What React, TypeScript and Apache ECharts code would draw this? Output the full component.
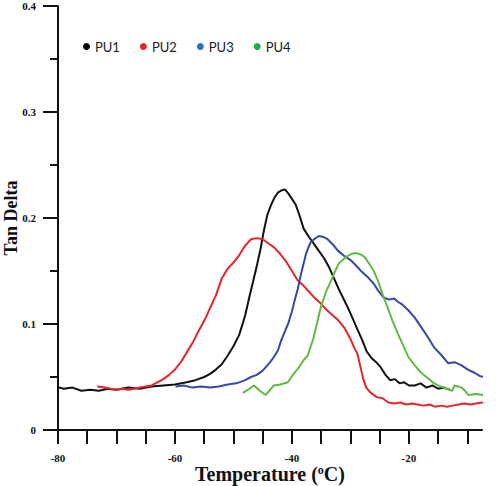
import React, { useEffect, useRef } from "react";
import * as echarts from "echarts";

const seriesNames = ["PU1", "PU2", "PU3", "PU4"];
const lineColors = ["#111111", "#e8242b", "#3448a5", "#62b945"];
const legendColors = ["#000000", "#e3262d", "#2c73bf", "#1bae4b"];

const xTicks = [-80, -75, -70, -65, -60, -55, -50, -45, -40, -35, -30, -25, -20, -15, -10];
const xLabels = [-80, -60, -40, -20];

const pu1T = [-81.7, -80.5, -79, -77.5, -76, -74.5, -73, -71.5, -70, -68, -66, -64, -62, -60, -58, -56.5, -55, -54, -53, -52, -51, -50, -49, -48, -47.3, -46.6, -46, -45.4, -44.8, -44.2, -43.6, -43, -42.4, -41.8, -41.2, -40.6, -40, -39.4, -38.8, -38, -37.2, -36.3, -35.4, -34.5, -33.6, -32.8, -32, -31.2, -30.4, -29.6, -28.8, -28, -27.2, -26.4, -25.6, -24.8, -24, -23.2, -22.4, -21.6, -20.8, -20, -19, -18, -17, -16, -15, -14, -13];
const pu1D = [0.040, 0.041, 0.039, 0.040, 0.037, 0.038, 0.037, 0.039, 0.038, 0.040, 0.039, 0.041, 0.042, 0.043, 0.045, 0.047, 0.050, 0.053, 0.057, 0.062, 0.070, 0.079, 0.090, 0.108, 0.125, 0.141, 0.155, 0.170, 0.188, 0.203, 0.212, 0.219, 0.224, 0.226, 0.227, 0.223, 0.218, 0.213, 0.204, 0.190, 0.183, 0.176, 0.169, 0.162, 0.153, 0.143, 0.133, 0.124, 0.115, 0.105, 0.095, 0.085, 0.074, 0.068, 0.064, 0.059, 0.052, 0.047, 0.048, 0.044, 0.045, 0.042, 0.042, 0.044, 0.040, 0.042, 0.039, 0.040, 0.038];

const pu2T = [-73.3, -72, -71, -70, -69, -68, -67, -66, -65, -64, -63, -62, -61, -60, -59, -58, -57, -56, -55, -54, -53, -52, -51, -50, -49, -48, -47, -46, -45, -44, -43, -42, -41, -40, -39, -38, -37, -36, -35, -34, -33, -32, -31, -30, -29.3, -28.8, -28.3, -27.8, -27.3, -26.5, -25.5, -24.5, -23.5, -22.5, -21.5, -20.5, -19.5, -18.5, -17.5, -16.5, -15.5, -14.5, -13.5, -12.5, -11.5, -10.5, -9.5, -8.5, -7.5, -6.5, -5.5, -4.5];
const pu2D = [0.041, 0.040, 0.039, 0.038, 0.039, 0.038, 0.039, 0.040, 0.041, 0.042, 0.045, 0.048, 0.052, 0.057, 0.064, 0.073, 0.082, 0.093, 0.103, 0.115, 0.127, 0.143, 0.152, 0.158, 0.165, 0.174, 0.180, 0.181, 0.180, 0.176, 0.172, 0.166, 0.159, 0.150, 0.141, 0.136, 0.130, 0.124, 0.119, 0.113, 0.108, 0.103, 0.096, 0.086, 0.077, 0.072, 0.060, 0.048, 0.040, 0.035, 0.031, 0.030, 0.026, 0.025, 0.026, 0.024, 0.025, 0.024, 0.023, 0.024, 0.022, 0.023, 0.022, 0.023, 0.024, 0.025, 0.024, 0.025, 0.026, 0.026, 0.027, 0.028];

const pu3T = [-59.9, -58.5, -57, -55.5, -54, -52.5, -51, -49.5, -48, -47, -46, -45, -44.2, -43.3, -42.4, -41.8, -41.2, -40.6, -40, -39.5, -39, -38.5, -38, -37.6, -37.2, -36.8, -36.2, -35.4, -34.6, -33.9, -33, -32.1, -31, -29.9, -29, -28, -27, -26, -25.2, -24.3, -23.4, -22.5, -21.9, -21.3, -20.7, -20.1, -19, -17.9, -16.8, -15.7, -14.5, -13.3, -12.2, -11, -9.9, -8.8, -7.9, -7.1, -6.2, -5.4];
const pu3D = [0.041, 0.042, 0.040, 0.041, 0.040, 0.041, 0.043, 0.044, 0.047, 0.050, 0.052, 0.056, 0.061, 0.067, 0.075, 0.085, 0.093, 0.101, 0.112, 0.123, 0.133, 0.146, 0.157, 0.166, 0.172, 0.177, 0.180, 0.183, 0.182, 0.180, 0.175, 0.169, 0.164, 0.160, 0.155, 0.149, 0.144, 0.138, 0.131, 0.125, 0.123, 0.124, 0.121, 0.119, 0.116, 0.113, 0.106, 0.097, 0.088, 0.078, 0.071, 0.063, 0.064, 0.061, 0.057, 0.054, 0.051, 0.050, 0.050, 0.047];

const pu4T = [-48.4, -47.5, -46.5, -45.5, -44.5, -43.7, -43.1, -42, -40.7, -39.7, -38.8, -38, -37.3, -36.3, -35.7, -35.1, -34.2, -33.3, -32.6, -32, -30.8, -29.9, -29, -28, -27.4, -26.8, -26, -25.3, -24.5, -23.6, -22.8, -21.9, -21, -20.1, -19, -17.9, -16.8, -15.7, -14.5, -13.1, -12.6, -12.2, -11.6, -11, -10.4, -9.8, -8.5, -7.3];
const pu4D = [0.035, 0.038, 0.042, 0.037, 0.033, 0.038, 0.042, 0.043, 0.045, 0.053, 0.059, 0.066, 0.070, 0.087, 0.101, 0.115, 0.130, 0.141, 0.150, 0.157, 0.163, 0.166, 0.167, 0.165, 0.162, 0.157, 0.150, 0.141, 0.128, 0.115, 0.103, 0.091, 0.080, 0.069, 0.061, 0.054, 0.049, 0.044, 0.041, 0.038, 0.037, 0.042, 0.041, 0.040, 0.037, 0.033, 0.034, 0.033];

const allT = [pu1T, pu2T, pu3T, pu4T];
const allD = [pu1D, pu2D, pu3D, pu4D];

export default function App() {
  const ref = useRef<HTMLDivElement>(null);
  useEffect(() => {
    if (!ref.current) return;
    const chart = echarts.init(ref.current, null, { renderer: "svg" });
    const serif = "'Liberation Serif', 'Times New Roman', serif";
    chart.setOption({
      animation: false,
      backgroundColor: "#ffffff",
      grid: { left: 58, right: 18, top: 6, bottom: 56, containLabel: false, outerBoundsMode: "none" },
      legend: {
        left: 78,
        top: 35,
        icon: "circle",
        itemWidth: 7,
        itemHeight: 7,
        itemGap: 20,
        textStyle: { fontFamily: "Lato, 'Noto Sans', sans-serif", fontSize: 13, color: "#1a1a1a" },
        data: seriesNames.map((n, i) => ({ name: n, itemStyle: { color: legendColors[i] } })),
      },
      xAxis: {
        type: "value",
        min: -80,
        max: -7.5,
        interval: 5,
        name: "Temperature ({sup|o}C)",
        nameLocation: "middle",
        nameGap: 34,
        nameMoveOverlap: false,
        nameTextStyle: {
          fontFamily: serif,
          fontWeight: "bold",
          fontSize: 20,
          color: "#111",
          rich: {
            sup: {
              fontFamily: serif,
              fontWeight: "bold",
              fontSize: 12,
              color: "#111",
              verticalAlign: "top",
              padding: [0, 0, 8, 0],
            },
          },
        },
        axisLine: { lineStyle: { color: "#111", width: 2 } },
        axisTick: { show: true, inside: false, length: 14, lineStyle: { color: "#111", width: 2 }, customValues: xTicks },
        axisLabel: {
          customValues: xLabels,
          margin: 22,
          fontFamily: serif,
          fontWeight: "bold",
          fontSize: 11,
          color: "#111",
        },
        splitLine: { show: false },
      },
      yAxis: {
        type: "value",
        min: 0,
        max: 0.4,
        interval: 0.1,
        name: "Tan Delta",
        nameLocation: "middle",
        nameGap: 38,
        nameRotate: 90,
        nameMoveOverlap: false,
        nameTextStyle: { fontFamily: serif, fontWeight: "bold", fontSize: 18, color: "#111" },
        axisLine: { lineStyle: { color: "#111", width: 2 } },
        axisTick: { show: true, inside: false, length: 15, lineStyle: { color: "#111", width: 2 } },
        minorTick: { show: true, splitNumber: 2, length: 8, lineStyle: { color: "#111", width: 2 } },
        axisLabel: {
          margin: 22,
          fontFamily: serif,
          fontWeight: "bold",
          fontSize: 11,
          lineHeight: 11,
          color: "#111",
        },
        splitLine: { show: false },
        minorSplitLine: { show: false },
      },
      series: seriesNames.map((n, i) => ({
        name: n,
        type: "line",
        showSymbol: false,
        symbol: "none",
        clip: false,
        smooth: false,
        color: lineColors[i],
        lineStyle: { width: 2, color: lineColors[i] },
        data: allT[i].map((t, j) => [t, allD[i][j]]),
      })),
    });
    return () => chart.dispose();
  }, []);
  return <div ref={ref} style={{ width: 500, height: 486, position: "absolute", left: 0, top: 0 }} />;
}
